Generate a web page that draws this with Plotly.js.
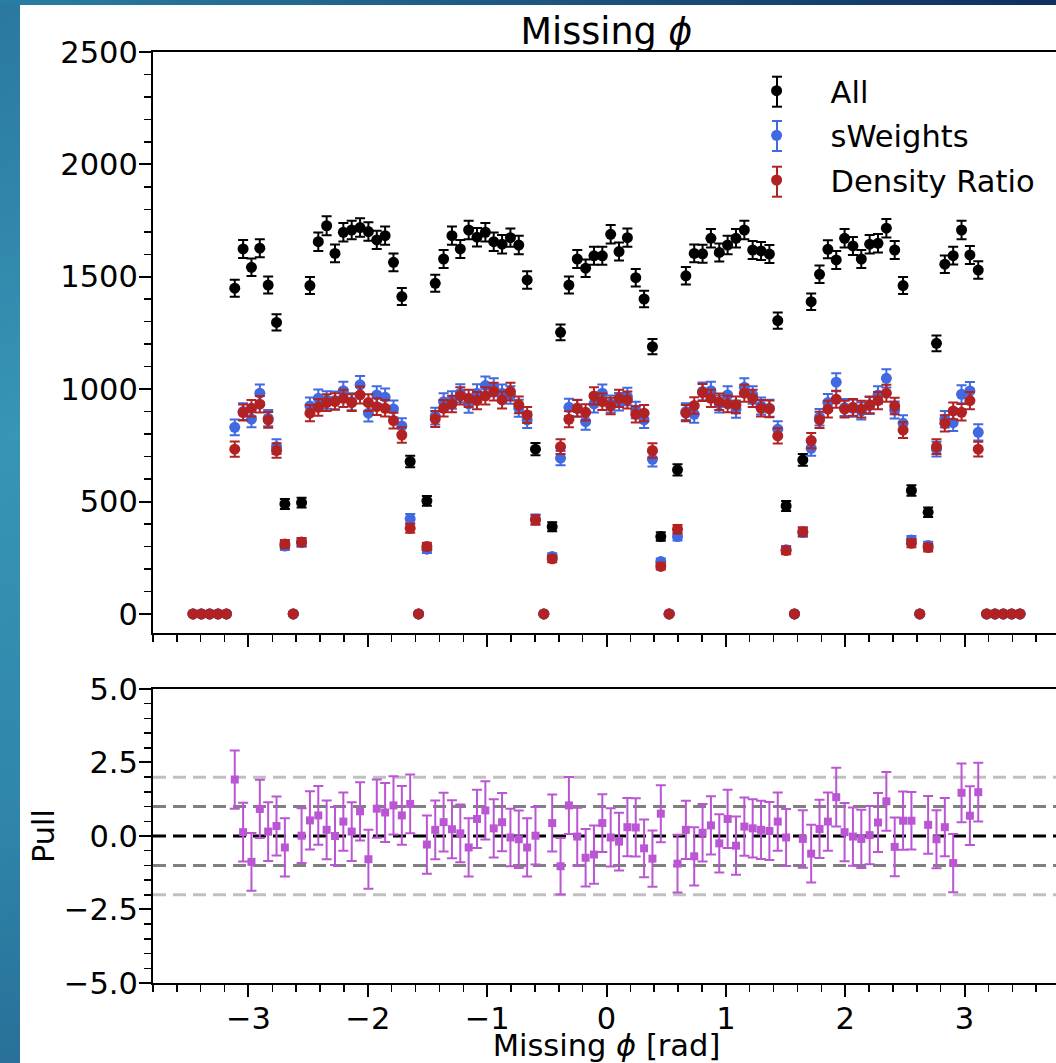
<!DOCTYPE html>
<html>
<head>
<meta charset="utf-8">
<script src="https://cdn.plot.ly/plotly-3.0.1.min.js"></script>
<style>
  html, body { margin:0; padding:0; width:1056px; height:1063px; overflow:hidden; }
  body { background: linear-gradient(170deg, #2a78a0 0%, #3795b5 35%, #2f86aa 65%, #23608c 100%); position:relative; }
  #topband { position:absolute; left:0; top:0; width:1056px; height:5px;
             background: linear-gradient(to right, #2a7ea3 0%, #1f5a86 45%, #0f2f5e 100%); }
  #chart { position:absolute; left:20px; top:5px; width:1050px; height:1058px; background:#fff; }
</style>
</head>
<body>
<div id="topband"></div>
<div id="chart"></div>
<script>
// ---- binning (histogram of Missing phi, 100 bins on [-3.5, 3.5]) ----
const binLow = -3.5;
const binWidth = 0.07;
const nBins = 100;

// ---- series values (one per bin) ----
const allCounts = [
  0,0,0,0,0,
  1449,1624,1542,1627,1463,1297,489,0,495,1461,
  1656,1727,1604,1698,1708,1719,1701,1664,1683,1564,
  1412,678,0,503,1471,1579,1683,1624,1708,1676,
  1698,1656,1645,1674,1641,1486,733,0,388,1253,
  1463,1579,1538,1593,1593,1689,1612,1674,1496,1401,
  1189,344,0,641,1504,1604,1602,1671,1608,1641,
  1671,1708,1619,1615,1601,1305,480,0,685,1389,
  1511,1622,1575,1671,1637,1579,1645,1649,1716,1619,
  1461,549,0,452,1204,1556,1594,1708,1597,1530,
  0,0,0,0,0];
const allErr = [
  0,0,0,0,0,
  38,40,39,40,38,36,22,0,22,38,
  41,42,40,41,41,41,41,41,41,40,
  38,26,0,22,38,40,41,40,41,41,
  41,41,41,41,41,39,27,0,20,35,
  38,40,39,40,40,41,40,41,39,37,
  34,19,0,25,39,40,40,41,40,41,
  41,41,40,40,40,36,22,0,26,37,
  39,40,40,41,40,40,41,41,41,40,
  38,23,0,21,35,39,40,41,40,39,
  0,0,0,0,0];

const sWeights = [
  0,0,0,0,0,
  830,900,867,982,871,744,302,0,317,925,
  959,952,950,993,944,1019,893,974,964,912,
  836,423,0,288,880,944,952,982,934,982,
  1016,1008,982,974,915,863,421,0,255,693,
  919,915,855,934,982,934,944,967,907,863,
  688,233,0,344,900,888,990,993,934,974,
  911,1008,974,925,915,822,285,0,362,737,
  875,940,1031,918,915,903,927,974,1048,907,
  848,329,0,304,733,866,851,977,992,808,
  0,0,0,0,0];
const sWeightsErr = [
  0,0,0,0,0,
  35,37,37,39,36,33,18,0,18,38,
  39,39,39,40,38,40,37,39,39,38,
  35,21,0,17,37,38,39,40,39,40,
  40,40,39,39,38,36,21,0,15,32,
  38,38,36,38,39,38,39,39,37,36,
  32,14,0,18,37,37,39,40,38,39,
  38,40,39,38,38,35,17,0,19,33,
  37,38,40,38,38,38,38,39,41,38,
  36,18,0,17,33,37,37,40,40,36,
  0,0,0,0,0];

const densityRatio = [
  0,0,0,0,0,
  733,896,915,933,863,727,311,0,320,893,
  919,940,945,959,940,974,940,922,915,860,
  796,381,0,300,867,915,934,970,959,949,
  970,989,952,989,930,885,418,0,245,744,
  866,915,897,970,944,925,959,952,888,893,
  727,211,0,377,893,927,985,959,944,934,
  930,982,959,915,912,792,282,0,366,771,
  863,911,955,911,919,911,930,949,982,925,
  818,314,0,295,744,848,903,897,949,733,
  0,0,0,0,0];
const densityRatioErr = [
  0,0,0,0,0,
  34,36,37,37,35,32,18,0,18,36,
  37,37,37,38,37,38,37,37,37,35,
  34,20,0,17,36,37,37,38,38,38,
  38,39,38,39,37,36,21,0,15,33,
  36,37,36,38,37,37,38,38,36,36,
  32,14,0,19,36,37,38,38,37,37,
  37,38,38,37,37,34,17,0,19,34,
  36,37,38,37,37,37,37,38,38,37,
  35,18,0,17,33,36,37,37,38,33,
  0,0,0,0,0];

const pull = [
  null,null,null,null,null,
  1.92,0.13,-0.88,0.92,0.15,0.34,-0.39,null,0.01,0.53,
  0.70,0.21,0.00,0.49,0.15,0.84,-0.79,0.93,0.80,1.04,
  0.70,1.09,null,-0.29,0.21,0.47,0.23,0.09,-0.39,0.58,
  0.87,0.26,0.47,-0.05,-0.11,-0.39,0.01,null,0.44,-1.03,
  1.04,-0.02,-0.74,-0.63,0.44,-0.05,-0.19,0.30,0.29,-0.42,
  -0.77,0.76,null,-0.94,0.21,-0.69,0.11,0.36,-0.25,0.58,
  -0.33,0.32,0.26,0.21,0.17,0.49,-0.05,null,-0.10,-0.60,
  0.24,0.49,1.32,0.13,-0.02,-0.10,0.03,0.46,1.18,-0.37,
  0.52,0.52,null,0.38,-0.11,0.30,-0.92,1.47,0.69,1.49,
  null,null,null,null,null];
const pullErr = [
  null,null,null,null,null,
  0.99,1.00,0.98,0.99,1.00,1.00,0.99,null,0.93,0.99,
  1.00,1.00,0.99,0.99,1.00,0.99,1.00,0.99,1.00,0.99,
  1.00,1.00,null,0.99,1.00,1.00,0.99,0.98,0.99,0.99,
  0.99,0.99,0.99,0.98,0.98,0.99,0.98,null,0.97,0.96,
  0.97,0.98,0.98,0.99,0.98,0.99,0.98,0.99,0.99,0.98,
  0.96,0.97,null,0.98,0.99,0.99,0.98,0.99,0.99,0.99,
  0.99,0.99,0.99,0.99,0.99,0.99,0.97,null,0.98,0.98,
  0.99,0.99,1.00,0.99,0.99,0.99,0.99,1.00,1.00,1.00,
  0.99,0.98,null,0.98,0.99,0.99,0.99,1.00,1.00,1.00,
  null,null,null,null,null];

// ---- labels ----
const seriesNames = ['All', 'sWeights', 'Density Ratio'];
const xTickVals = [-3,-2,-1,0,1,2,3];
const xTickText = ['\u22123','\u22122','\u22121','0','1','2','3'];
const pullTickVals = [-5,-2.5,0,2.5,5];
const pullTickText = ['\u22125.0','\u22122.5','0.0','2.5','5.0'];
const pullRefLevels = [0, 1, -1, 2, -2];

// bin centres
const phi = Array.from({length: nBins}, (_, i) => +(binLow + binWidth * (i + 0.5)).toFixed(4));

const FONT = 'DejaVu Sans, Liberation Sans, sans-serif';
const FS = 30.5;
const colors = ['#000000', '#4169E1', '#B22222'];
const values = [allCounts, sWeights, densityRatio];
const errs = [allErr, sWeightsErr, densityRatioErr];

const traces = values.map((v, i) => ({
  type: 'scatter', mode: 'markers', x: phi, y: v,
  name: seriesNames[i], legendgroup: 'g' + i,
  xaxis: 'x', yaxis: 'y',
  marker: {color: colors[i], size: 11, symbol: 'circle'},
  error_y: {type: 'data', array: errs[i], visible: true, color: colors[i], thickness: 2, width: 5}
}));

traces.push({
  type: 'scatter', mode: 'markers', x: phi, y: pull, name: 'Pull', showlegend: false,
  xaxis: 'x2', yaxis: 'y2',
  marker: {color: '#BA55D3', size: 8, symbol: 'square'},
  error_y: {type: 'data', array: pullErr, visible: true, color: '#BA55D3', thickness: 2, width: 5}
});

const refColors = {0: '#000000', 1: '#808080', 2: '#c0c0c0'};
const shapes = pullRefLevels.map(l => ({
  type: 'line', xref: 'x2 domain', x0: 0, x1: 1, yref: 'y2', y0: l, y1: l,
  line: {color: refColors[Math.abs(l)], width: 3, dash: '13px,7px'}, layer: 'below'
}));

// error-bar whiskers for the legend keys (legend decoration, paper coords)
const legendKeyX = 0.688;
const legendKeyY = [0.95736, 0.90977, 0.86069];
legendKeyY.forEach((yy, i) => {
  const base = {type: 'line', xref: 'paper', yref: 'paper', xsizemode: 'pixel', ysizemode: 'pixel',
                xanchor: legendKeyX, yanchor: yy, line: {color: colors[i], width: 2}, layer: 'above'};
  shapes.push(Object.assign({}, base, {x0: 0, x1: 0, y0: -15, y1: 15}));
  shapes.push(Object.assign({}, base, {x0: -5, x1: 5, y0: -15, y1: -15}));
  shapes.push(Object.assign({}, base, {x0: -5, x1: 5, y0: 15, y1: 15}));
});

const axisCommon = {
  showline: true, linecolor: '#000', linewidth: 2, mirror: true,
  ticks: 'outside', ticklen: 12, tickwidth: 2, tickcolor: '#000',
  showgrid: false, zeroline: false,
  tickfont: {family: FONT, size: FS, color: '#000'}
};

const layout = {
  width: 1050, height: 1058,
  margin: {l: 133, r: 10, t: 47, b: 80},
  paper_bgcolor: '#ffffff', plot_bgcolor: '#ffffff',
  font: {family: FONT, size: FS, color: '#000'},
  title: {text: 'Missing <i>\u03d5</i>', font: {family: FONT, size: 36.5, color: '#000'},
          x: 0.5, xref: 'paper', xanchor: 'center', y: 0.9754, yref: 'container', yanchor: 'middle'},
  showlegend: true,
  legend: {x: 0.628, y: 0.9867, xanchor: 'left', yanchor: 'top', xref: 'paper', yref: 'paper',
           font: {family: FONT, size: FS, color: '#000'}, bgcolor: 'rgba(0,0,0,0)',
           traceorder: 'grouped', tracegroupgap: 2, itemwidth: 98},
  xaxis: Object.assign({}, axisCommon, {
    domain: [0, 1], range: [-3.8, 3.8], anchor: 'y', matches: 'x2',
    tickmode: 'array', tickvals: xTickVals, ticktext: xTickText, showticklabels: false,
    minor: {tickmode: 'linear', tick0: 0, dtick: 0.2, ticks: 'outside', ticklen: 7, tickwidth: 1.5, tickcolor: '#000'}
  }),
  yaxis: Object.assign({}, axisCommon, {
    domain: [0.37594, 1], range: [-85, 2500], anchor: 'x',
    tickmode: 'linear', tick0: 0, dtick: 500, ticklabelstandoff: -5,
    minor: {tickmode: 'linear', tick0: 0, dtick: 100, ticks: 'outside', ticklen: 7, tickwidth: 1.5, tickcolor: '#000'}
  }),
  xaxis2: Object.assign({}, axisCommon, {
    domain: [0, 1], range: [-3.8, 3.8], anchor: 'y2',
    tickmode: 'array', tickvals: xTickVals, ticktext: xTickText, ticklabelstandoff: -5,
    minor: {tickmode: 'linear', tick0: 0, dtick: 0.2, ticks: 'outside', ticklen: 7, tickwidth: 1.5, tickcolor: '#000'},
    title: {text: 'Missing <i>\u03d5</i> [rad]', font: {family: FONT, size: FS, color: '#000'}, standoff: 9}
  }),
  yaxis2: Object.assign({}, axisCommon, {
    domain: [0, 0.31579], range: [-5, 5], anchor: 'x2',
    tickmode: 'array', tickvals: pullTickVals, ticktext: pullTickText, ticklabelstandoff: -5,
    minor: {tickmode: 'linear', tick0: 0, dtick: 0.5, ticks: 'outside', ticklen: 7, tickwidth: 1.5, tickcolor: '#000'},
    title: {text: 'Pull', font: {family: FONT, size: FS, color: '#000'}, standoff: 0}
  }),
  shapes: shapes
};

Plotly.newPlot('chart', traces, layout, {displayModeBar: false, staticPlot: true});
</script>
</body>
</html>
